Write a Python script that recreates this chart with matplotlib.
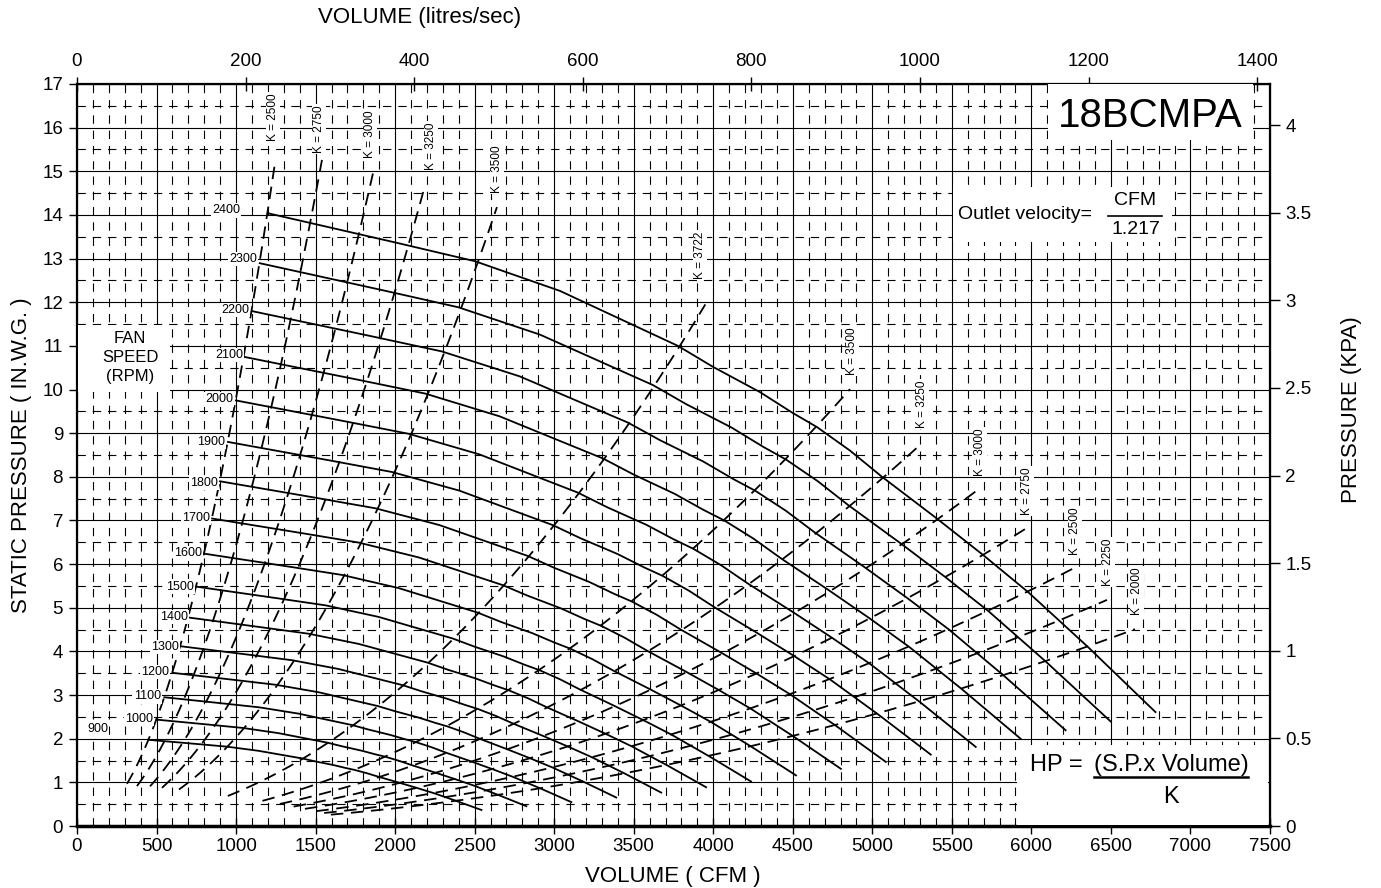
import numpy as np
import matplotlib
matplotlib.use("Agg")
import matplotlib.pyplot as plt
from matplotlib.ticker import MultipleLocator, FuncFormatter
from matplotlib.patches import Rectangle

plt.rcParams["font.family"] = ["Liberation Sans", "DejaVu Sans"]
plt.rcParams["lines.scale_dashes"] = False

# fan curve at 2400 rpm (CFM, in. w.g.)
base_rpm = 2400
base_cfm = [1199, 2012, 2502, 3036, 3495, 3778, 3998, 4294, 4501, 4652,
            4860, 5061, 5400, 5696, 5979, 6356, 6780]
base_sp = [14.04, 13.36, 12.94, 12.26, 11.48, 11.0, 10.52, 9.94, 9.46, 9.14,
           8.6, 8.0, 7.06, 6.21, 5.36, 4.10, 2.61]

rpms = [900, 1000, 1100, 1200, 1300, 1400, 1500, 1600,
        1700, 1800, 1900, 2000, 2100, 2200, 2300, 2400]
# where the rpm labels sit (right edge)
rpm_lab_cfm = [195, 478, 528, 578, 641, 698, 736, 786,
               836, 886, 930, 981, 1044, 1081, 1132, 1025]
rpm_lab_sp = [2.22, 2.46, 2.97, 3.53, 4.10, 4.79, 5.48, 6.25,
              7.06, 7.86, 8.80, 9.78, 10.79, 11.82, 12.99, 14.11]

# K (system / efficiency) lines: top end, bottom end
k_names = ["K = 2500", "K = 2750", "K = 3000", "K = 3250", "K = 3500",
           "K = 3722", "K = 3500", "K = 3250", "K = 3000", "K = 2750",
           "K = 2500", "K = 2250", "K = 2000"]
k_top_cfm = [1245, 1540, 1861, 2188, 2640,
             3950, 4860, 5312, 5677, 5972, 6268, 6475, 6651]
k_top_sp = [15.2, 15.26, 14.96, 14.68, 14.18,
            11.95, 10.01, 8.77, 7.74, 6.83, 5.91, 5.18, 4.51]
k_bot_cfm = [314, 377, 459, 534, 641,
             948, 1166, 1275, 1362, 1433, 1504, 1554, 1596]
k_lab_cfm = [1232, 1521, 1842, 2225, 2640,
             3916, 4872, 5312, 5677, 5972, 6274, 6481, 6664]
k_lab_sp = [16.24, 15.97, 15.85, 15.58, 15.05,
            13.08, 10.88, 9.67, 8.57, 7.67, 6.76, 6.05, 5.38]

KPA_PER_INWG = 0.2491
LS_PER_CFM = 0.1887   # scale of the top axis as drawn

W, H = 1381, 888
fig = plt.figure(figsize=(W / 100, H / 100), dpi=100)
ax = fig.add_axes([77 / W, 62 / H, 1193 / W, 742 / H])
ax.set_xlim(0, 7500)
ax.set_ylim(0, 17)

# grid
ax.set_xticks(np.arange(0, 7501, 500))
ax.set_yticks(np.arange(0, 18, 1))
ax.xaxis.set_minor_locator(MultipleLocator(100))
ax.yaxis.set_minor_locator(MultipleLocator(0.5))
ax.set_axisbelow(True)
ax.grid(which="major", color="k", lw=0.8)
ax.xaxis.grid(True, which="minor", color="k", lw=0.8, ls=(0, (6, 5)))
ax.yaxis.grid(True, which="minor", color="k", lw=0.8, ls=(0, (6, 5)))
ax.tick_params(which="minor", length=0)
ax.tick_params(axis="x", which="major", direction="inout", length=11, width=1,
               labelsize=13.5, pad=3)
ax.tick_params(axis="y", which="major", direction="out", length=6, width=1,
               labelsize=13.5, pad=4)
ax.spines["bottom"].set_linewidth(2.5)
ax.spines["left"].set_linewidth(1.6)
ax.spines["right"].set_linewidth(1.6)
ax.spines["top"].set_linewidth(1.6)

# fan curves (fan laws from the 2400 rpm curve)
for n in rpms:
    s = n / base_rpm
    ax.plot(np.array(base_cfm) * s, np.array(base_sp) * s ** 2,
            color="k", lw=1.3, zorder=3)
for n, x, y in zip(rpms, rpm_lab_cfm, rpm_lab_sp):
    ax.text(x, y, str(n), ha="right", va="center", fontsize=9,
            bbox=dict(fc="white", ec="none", pad=1), zorder=4)

# K lines
for name, qt, pt, qb, lx, ly in zip(k_names, k_top_cfm, k_top_sp, k_bot_cfm,
                                    k_lab_cfm, k_lab_sp):
    q = np.linspace(qb, qt, 80)
    ax.plot(q, pt * (q / qt) ** 2, color="k", lw=1.3, dashes=(9, 5.5), zorder=2.5)
    ax.text(lx, ly, name, rotation=90, ha="center", va="center", fontsize=8.5,
            bbox=dict(fc="white", ec="none", pad=0.8), zorder=4)

# text boxes
def box(x0, x1, y0, y1):
    ax.add_patch(Rectangle((x0, y0), x1 - x0, y1 - y0, fc="white", ec="none",
                           zorder=4.5))

box(6104, 7393, 15.72, 17)
ax.text(6745, 16.27, "18BCMPA", ha="center", va="center", fontsize=29, zorder=5)

box(5507, 6884, 13.38, 14.64)
ax.text(5538, 14.02, "Outlet velocity=", ha="left", va="center", fontsize=14, zorder=5)
ax.text(6651, 14.32, "CFM", ha="center", va="center", fontsize=14, zorder=5)
ax.text(6660, 13.66, "1.217", ha="center", va="center", fontsize=14, zorder=5)
ax.plot([6481, 6821], [13.97, 13.97], color="k", lw=1.2, zorder=5)

box(6, 585, 9.94, 11.48)
ax.text(333, 10.74, "FAN\nSPEED\n(RPM)", ha="center", va="center", fontsize=12,
        linespacing=1.35, zorder=5)

box(5909, 7487, 0.03, 1.86)
ax.text(6323, 1.40, "HP =", ha="right", va="center", fontsize=17, zorder=5)
t = ax.text(6878, 1.40, "(S.P.x Volume)", ha="center", va="center", fontsize=17,
            zorder=5)
ax.text(6878, 0.66, "K", ha="center", va="center", fontsize=17, zorder=5)
fig.canvas.draw()
bb = t.get_window_extent(fig.canvas.get_renderer())
inv = ax.transData.inverted()
(ux0, _), (ux1, _) = inv.transform([(bb.x0, bb.y0), (bb.x1, bb.y0)])
ax.plot([ux0, ux1], [1.12, 1.12], color="k", lw=1.8, zorder=5)

# secondary axes
top = ax.secondary_xaxis("top", functions=(lambda v: v * LS_PER_CFM,
                                           lambda v: v / LS_PER_CFM))
top.set_xticks(np.arange(0, 1401, 200))
top.tick_params(direction="inout", length=10, width=1, labelsize=13.5, pad=5)
right = ax.secondary_yaxis("right", functions=(lambda v: v * KPA_PER_INWG,
                                               lambda v: v / KPA_PER_INWG))
right.set_yticks(np.arange(0, 4.01, 0.5))
right.yaxis.set_major_formatter(FuncFormatter(lambda v, _: f"{v:g}"))
right.tick_params(direction="out", length=7, width=1, labelsize=13.5, pad=4)

fig.text(673 / W, 1 - 876 / H, "VOLUME ( CFM )", ha="center", va="center", fontsize=16)
fig.text(420 / W, 1 - 18 / H, "VOLUME (litres/sec)", ha="center", va="center", fontsize=16)
fig.text(22 / W, 1 - 455 / H, "STATIC PRESSURE ( IN.W.G. )", rotation=90,
         ha="center", va="center", fontsize=16)
fig.text(1352 / W, 1 - 410 / H, "PRESSURE (KPA)", rotation=90,
         ha="center", va="center", fontsize=16)

fig.savefig("out.png", dpi=100)
